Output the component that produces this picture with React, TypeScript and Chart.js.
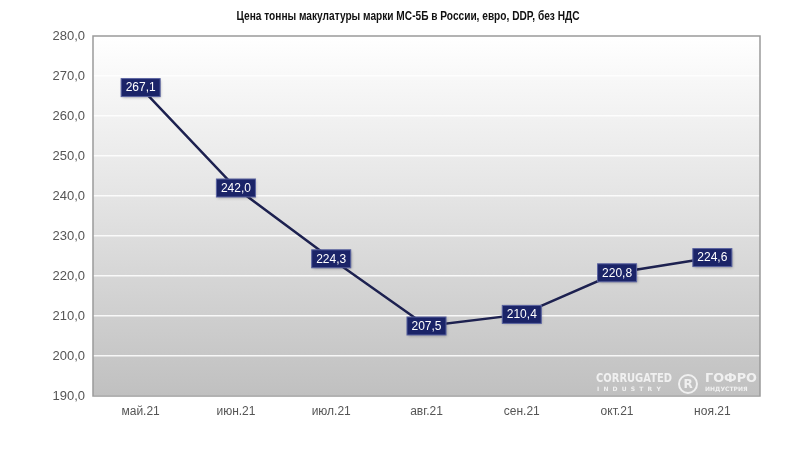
import React, { useEffect, useRef } from 'react';
import Chart from 'chart.js/auto';

const months = ['май.21', 'июн.21', 'июл.21', 'авг.21', 'сен.21', 'окт.21', 'ноя.21'];
const prices = [267.1, 242.0, 224.3, 207.5, 210.4, 220.8, 224.6];
const yMin = 190;
const yMax = 280;
const yStep = 10;

const fmt = (v: number) => v.toFixed(1).replace('.', ',');

const TITLE = 'Цена тонны макулатуры марки МС-5Б в России, евро, DDP, без НДС';

const App: React.FC = () => {
  const canvasRef = useRef<HTMLCanvasElement | null>(null);
  const chartInstance = useRef<Chart | null>(null);

  useEffect(() => {
    document.body.style.margin = '0';
    if (!canvasRef.current) return;
    const ctx = canvasRef.current.getContext('2d');

    // background gradient + border of the plot area, title
    const backdrop = {
      id: 'backdrop',
      beforeDraw(chart: any) {
        const { ctx: c, chartArea: a } = chart;
        c.save();
        const g = c.createLinearGradient(0, a.top, 0, a.bottom);
        g.addColorStop(0, '#ffffff');
        g.addColorStop(0.45, '#e4e4e4');
        g.addColorStop(1, '#c0c0c0');
        c.fillStyle = g;
        c.fillRect(a.left, a.top, a.right - a.left, a.bottom - a.top);

        c.fillStyle = '#111';
        c.font = '600 12px "Liberation Sans", Arial, sans-serif';
        c.textAlign = 'center';
        c.textBaseline = 'middle';
        c.fillText(TITLE, 408, 17, 343);
        c.restore();
      },
      afterDatasetsDraw(chart: any) {
        const { ctx: c, chartArea: a } = chart;
        c.save();
        c.strokeStyle = '#9a9a9a';
        c.lineWidth = 1.5;
        c.strokeRect(a.left, a.top, a.right - a.left, a.bottom - a.top);

        // watermark
        c.fillStyle = 'rgba(255,255,255,0.75)';
        c.strokeStyle = 'rgba(255,255,255,0.75)';
        c.textBaseline = 'middle';
        c.textAlign = 'left';
        c.font = 'bold 13px "DejaVu Sans", sans-serif';
        c.fillText('CORRUGATED', a.right - 164, a.bottom - 17, 76);
        c.fillText('ГОФРО', a.right - 55, a.bottom - 17, 52);
        c.font = 'bold 6px "DejaVu Sans", sans-serif';
        c.fillText('I  N  D  U  S  T  R  Y', a.right - 163, a.bottom - 7, 74);
        c.fillText('ИНДУСТРИЯ', a.right - 55, a.bottom - 7, 52);
        c.lineWidth = 2;
        c.beginPath();
        c.arc(a.right - 72, a.bottom - 12, 9, 0, Math.PI * 2);
        c.stroke();
        c.font = 'bold 12px "DejaVu Sans", sans-serif';
        c.textAlign = 'center';
        c.fillText('R', a.right - 72, a.bottom - 11);

        // value labels
        const meta = chart.getDatasetMeta(0);
        c.font = '12px "Liberation Sans", Arial, sans-serif';
        meta.data.forEach((pt: any, i: number) => {
          const txt = fmt(prices[i]);
          const w = c.measureText(txt).width + 9;
          const h = 18;
          c.shadowColor = 'rgba(0,0,0,0.3)';
          c.shadowBlur = 3;
          c.shadowOffsetX = 1;
          c.shadowOffsetY = 1;
          c.fillStyle = '#1b2468';
          c.fillRect(pt.x - w / 2, pt.y - h / 2, w, h);
          c.shadowColor = 'transparent';
          c.strokeStyle = '#5a63a0';
          c.lineWidth = 1;
          c.strokeRect(pt.x - w / 2, pt.y - h / 2, w, h);
          c.fillStyle = '#ffffff';
          c.textAlign = 'center';
          c.textBaseline = 'middle';
          c.fillText(txt, pt.x, pt.y + 0.5);
        });
        c.restore();
      },
    };

    if (chartInstance.current) chartInstance.current.destroy();
    chartInstance.current = new Chart(ctx!, {
      type: 'line',
      data: {
        labels: months,
        datasets: [{
          data: prices,
          borderColor: '#1d2150',
          borderWidth: 2.5,
          pointRadius: 0,
          tension: 0,
          fill: false,
        }],
      },
      options: {
        animation: false,
        responsive: false,
        maintainAspectRatio: false,
        layout: { padding: { top: 36, right: 45, left: 0, bottom: 0 } },
        plugins: { legend: { display: false }, tooltip: { enabled: false } },
        scales: {
          x: {
            offset: true,
            grid: { display: false, drawTicks: false },
            border: { display: false },
            ticks: { color: '#555', font: { size: 12, family: '"Liberation Sans", Arial, sans-serif' }, padding: 8 },
            afterFit: (s: any) => { s.height = 59; },
          },
          y: {
            min: yMin,
            max: yMax,
            grid: { color: 'rgba(255,255,255,0.85)', lineWidth: 1.5, drawTicks: false },
            border: { display: false },
            ticks: {
              stepSize: yStep,
              color: '#555',
              padding: 8,
              font: { size: 13, family: '"Liberation Sans", Arial, sans-serif' },
              callback: (v: any) => fmt(Number(v)),
            },
            afterFit: (s: any) => { s.width = 93; },
          },
        },
      },
      plugins: [backdrop],
    });

    return () => {
      if (chartInstance.current) {
        chartInstance.current.destroy();
        chartInstance.current = null;
      }
    };
  }, []);

  return (
    <div style={{ width: 805, height: 455, background: '#fff' }}>
      <canvas ref={canvasRef} width={805} height={455} style={{ width: 805, height: 455 }} />
    </div>
  );
};

export default App;
